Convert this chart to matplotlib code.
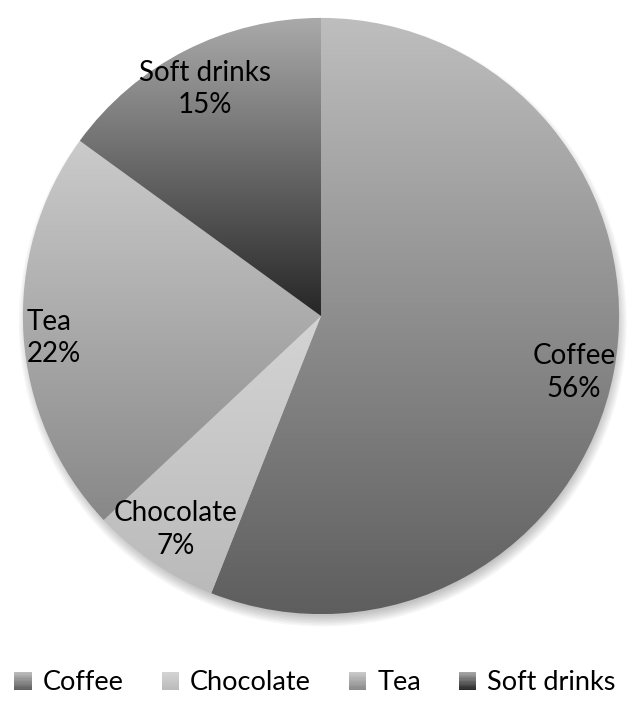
import numpy as np
import matplotlib
matplotlib.use("Agg")
import matplotlib.pyplot as plt
from matplotlib.patches import Rectangle, Circle
from matplotlib.legend_handler import HandlerBase
from matplotlib.colors import to_rgb

# data
labels = ["Coffee", "Chocolate", "Tea", "Soft drinks"]
shares = [56, 7, 22, 15]

# gradient colours (top, bottom) for each slice
grad_top = ["#bebebe", "#d4d4d4", "#cbcbcb", "#aaaaaa"]
grad_bot = ["#5e5e5e", "#bababa", "#888888", "#262626"]

plt.rcParams['font.family'] = ['Lato', 'DejaVu Sans']

fig = plt.figure(figsize=(6.3, 7.2), dpi=100)
ax = fig.add_axes([8 / 630, 91 / 720, 626 / 630, 626 / 720])
ax.set_xlim(-1.05, 1.05)
ax.set_ylim(-1.05, 1.05)
ax.set_aspect('equal')
ax.axis('off')

# soft shadow under the pie
for k in range(8):
    ax.add_patch(Circle((0.006, -0.022), 0.985 + k * 0.005, facecolor='black',
                        edgecolor='none', alpha=0.03, zorder=0))

wedges, _ = ax.pie(shares, startangle=90, counterclock=False, radius=1.0,
                   wedgeprops=dict(edgecolor='none', linewidth=0))


def gradient(top, bot, n=256):
    t = np.linspace(0, 1, n)[:, None]
    a = np.array(to_rgb(top))
    b = np.array(to_rgb(bot))
    return (a + (b - a) * t)[:, None, :]


for w, top, bot in zip(wedges, grad_top, grad_bot):
    v = w.get_path().vertices
    x0, x1 = v[:, 0].min(), v[:, 0].max()
    y0, y1 = max(v[:, 1].min(), -1), min(v[:, 1].max(), 1)
    w.set_facecolor('none')
    im = ax.imshow(gradient(top, bot), extent=[x0, x1, y0, y1], origin='upper',
                   aspect='auto', interpolation='bilinear', zorder=1)
    im.set_clip_path(w)

ax.set_xlim(-1.05, 1.05)
ax.set_ylim(-1.05, 1.05)

# label placement (radius, angle tweak in deg, alignment)
label_pos = [(0.87, -1.8, 'center'), (0.866, 0, 'center'),
             (0.99, 0.7, 'left'), (0.855, 0, 'center')]
for w, lab, s, (r, dth, ha) in zip(wedges, labels, shares, label_pos):
    th = np.deg2rad((w.theta1 + w.theta2) / 2 + dth)
    x, y = r * np.cos(th), r * np.sin(th)
    ax.text(x, y, f"{lab}\n{s}%", ha=ha, va='center', fontsize=20,
            color='black', linespacing=1.3, zorder=3)


class GradHandler(HandlerBase):
    def __init__(self, top, bot):
        super().__init__()
        self.top = np.array(to_rgb(top))
        self.bot = np.array(to_rgb(bot))

    def create_artists(self, legend, orig_handle, xdescent, ydescent,
                       width, height, fontsize, trans):
        n = 14
        arts = []
        for i in range(n):
            c = self.top + (self.bot - self.top) * (i + 0.5) / n
            y = -ydescent + height * (n - 1 - i) / n
            arts.append(Rectangle((-xdescent, y), width, height / n + 0.01,
                                  facecolor=c, edgecolor='none', transform=trans))
        return arts


handles = [Rectangle((0, 0), 1, 1) for _ in labels]
hmap = {h: GradHandler(t, b) for h, t, b in zip(handles, grad_top, grad_bot)}
fig.legend(handles, labels, handler_map=hmap, loc='center',
           bbox_to_anchor=(0.5, 37 / 720), ncol=4, frameon=False,
           fontsize=19.5, handlelength=0.65, handleheight=0.65,
           handletextpad=0.4, columnspacing=1.4)

fig.savefig("out.png", dpi=100, facecolor='white')
